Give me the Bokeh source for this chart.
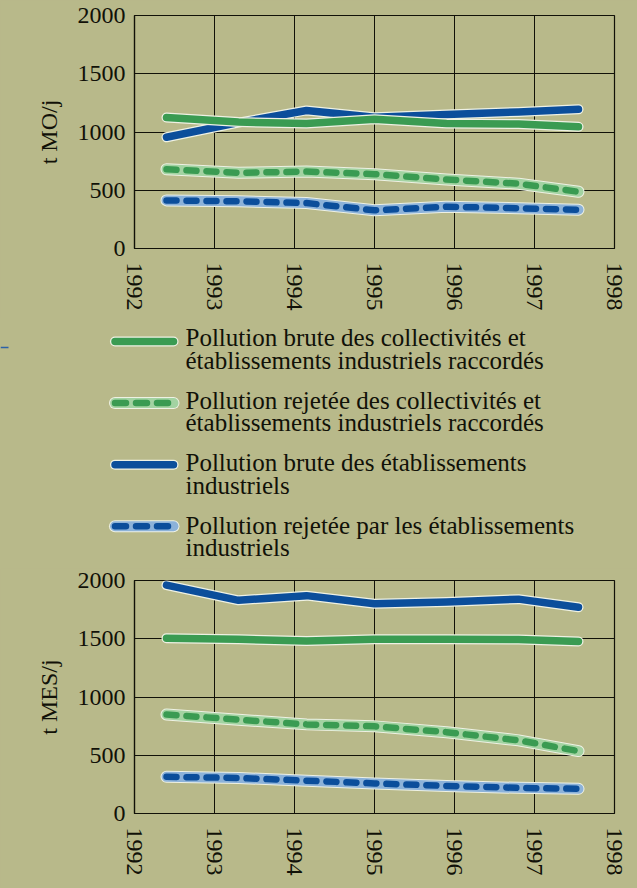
from bokeh.plotting import figure
from bokeh.layouts import column
from bokeh.models import Range1d, FixedTicker
from bokeh.embed import file_html
from bokeh.resources import INLINE
from bokeh.core.properties import value

# ---------------- data ----------------
years = [1992.4, 1993.3, 1994.15, 1995.0, 1995.9, 1996.8, 1997.55]
x_ticks = [1992, 1993, 1994, 1995, 1996, 1997, 1998]
y_ticks = [0, 500, 1000, 1500, 2000]

# t MO/j
mo_brute_coll = [1125, 1085, 1073, 1110, 1073, 1068, 1045]
mo_rejet_coll = [680, 650, 660, 638, 592, 556, 487]
mo_brute_ind = [955, 1080, 1185, 1127, 1150, 1172, 1195]
mo_rejet_ind = [413, 405, 390, 328, 358, 346, 333]

# t MES/j
mes_brute_coll = [1505, 1495, 1480, 1495, 1495, 1493, 1477]
mes_rejet_coll = [850, 805, 765, 748, 698, 628, 536]
mes_brute_ind = [1960, 1830, 1870, 1800, 1815, 1840, 1770]
mes_rejet_ind = [315, 305, 282, 258, 237, 220, 212]

legend_labels = [
    ["Pollution brute des collectivités et", "établissements industriels raccordés"],
    ["Pollution rejetée des collectivités et", "établissements industriels raccordés"],
    ["Pollution brute des établissements", "industriels"],
    ["Pollution rejetée par les établissements", "industriels"],
]

# ---------------- style ----------------
BG = "#b8b98a"
GREEN = "#3a9b52"
GREEN_LIGHT = "#a3d3a2"
BLUE = "#0b4e9b"
BLUE_LIGHT = "#8cb2d9"
HALO = "#eef1e4"
INK = "#111108"
FONT = "Liberation Serif"

W = 637
BL, BR = 134, 23

styles = [
    (GREEN, GREEN_LIGHT, False),
    (GREEN, GREEN_LIGHT, True),
    (BLUE, BLUE_LIGHT, False),
    (BLUE, BLUE_LIGHT, True),
]


def styled_line(p, xs, ys, color, light, dashed, dxs=None):
    kw = dict(line_cap="round", line_join="round")
    if dashed:
        p.line(xs, ys, line_color=HALO, line_width=12, **kw)
        p.line(xs, ys, line_color=light, line_width=10, **kw)
        p.line(dxs if dxs is not None else xs, ys, line_color=color, line_width=6.5,
               line_dash="11 10" if dxs is not None else "10 10", **kw)
    else:
        p.line(xs, ys, line_color=HALO, line_width=10, **kw)
        p.line(xs, ys, line_color=color, line_width=7.5, **kw)


def make_chart(ylabel, series, top, bottom, height):
    p = figure(width=W, height=height,
               x_range=Range1d(1992, 1998), y_range=Range1d(0, 2000),
               output_backend="svg", toolbar_location=None,
               min_border_left=BL, min_border_right=BR,
               min_border_top=top, min_border_bottom=bottom,
               background_fill_color=BG, border_fill_color=BG,
               outline_line_color=INK, outline_line_width=1.2,
               styles={"background-color": BG})
    p.xaxis.ticker = FixedTicker(ticks=x_ticks)
    p.yaxis.ticker = FixedTicker(ticks=y_ticks)
    for ax in (p.xaxis[0], p.yaxis[0]):
        ax.major_tick_out = 0
        ax.major_tick_in = 0
        ax.minor_tick_out = 0
        ax.minor_tick_in = 0
        ax.axis_line_color = INK
        ax.axis_line_width = 1.2
        ax.major_label_text_font = FONT
        ax.major_label_text_font_size = "24px"
        ax.major_label_text_color = INK
    p.xaxis.major_label_orientation = "vertical"
    p.xaxis.major_label_standoff = 14
    p.yaxis.major_label_standoff = 9
    p.yaxis.axis_label = ylabel
    p.yaxis.axis_label_text_font = FONT
    p.yaxis.axis_label_text_font_size = "24px"
    p.yaxis.axis_label_text_font_style = "normal"
    p.yaxis.axis_label_text_color = INK
    p.yaxis.axis_label_standoff = 13
    p.xgrid.grid_line_color = INK
    p.ygrid.grid_line_color = INK
    p.xgrid.grid_line_width = 1
    p.ygrid.grid_line_width = 1
    for i in [3, 1, 2, 0]:
        c, lc, d = styles[i]
        styled_line(p, years, series[i], c, lc, d)
    return p


TOP_H, LEG_H, BOT_H = 318, 250, 319

p_top = make_chart("t MO/j", [mo_brute_coll, mo_rejet_coll, mo_brute_ind, mo_rejet_ind],
                   top=15, bottom=TOP_H - 15 - 233, height=TOP_H)

# ---------------- legend panel (data units == page pixels) ----------------
y0 = TOP_H
leg = figure(width=W, height=LEG_H,
             x_range=Range1d(0, W), y_range=Range1d(y0 + LEG_H, y0),
             output_backend="svg", toolbar_location=None,
             min_border_left=0, min_border_right=0, min_border_top=0, min_border_bottom=0,
             background_fill_color=BG, border_fill_color=BG,
             outline_line_color=BG, outline_line_width=4,
             styles={"background-color": BG})
leg.axis.visible = False
leg.grid.visible = False

# small blue rule at the left page edge
leg.line([0, 8], [347, 347], line_color="#2c62a8", line_width=1.5)

for i, lines in enumerate(legend_labels):
    c, lc, d = styles[i]
    yc = 341 + i * 61.6
    styled_line(leg, [114.5, 173.0], [yc, yc], c, lc, d, dxs=[114.5, 167.5])
    yb = 337 + i * 62.5
    for j, t in enumerate(lines):
        leg.text(x=[185], y=[yb + j * 22.5], text=[t],
                 text_font=value(FONT), text_font_size="25px",
                 text_color=INK, text_align="left", text_baseline="alphabetic")

p_bot = make_chart("t MES/j", [mes_brute_coll, mes_rejet_coll, mes_brute_ind, mes_rejet_ind],
                   top=12, bottom=BOT_H - 12 - 233, height=BOT_H)

layout = column(p_top, column(leg, spacing=0, styles={"background-color": BG}), p_bot,
                spacing=0, styles={"background-color": BG})
html = file_html(layout, INLINE, title="Pollution")
html = html.replace("</head>",
                    "<style>html, body { background: #b8b98a !important; }</style></head>", 1)
open("out.html", "w").write(html)
